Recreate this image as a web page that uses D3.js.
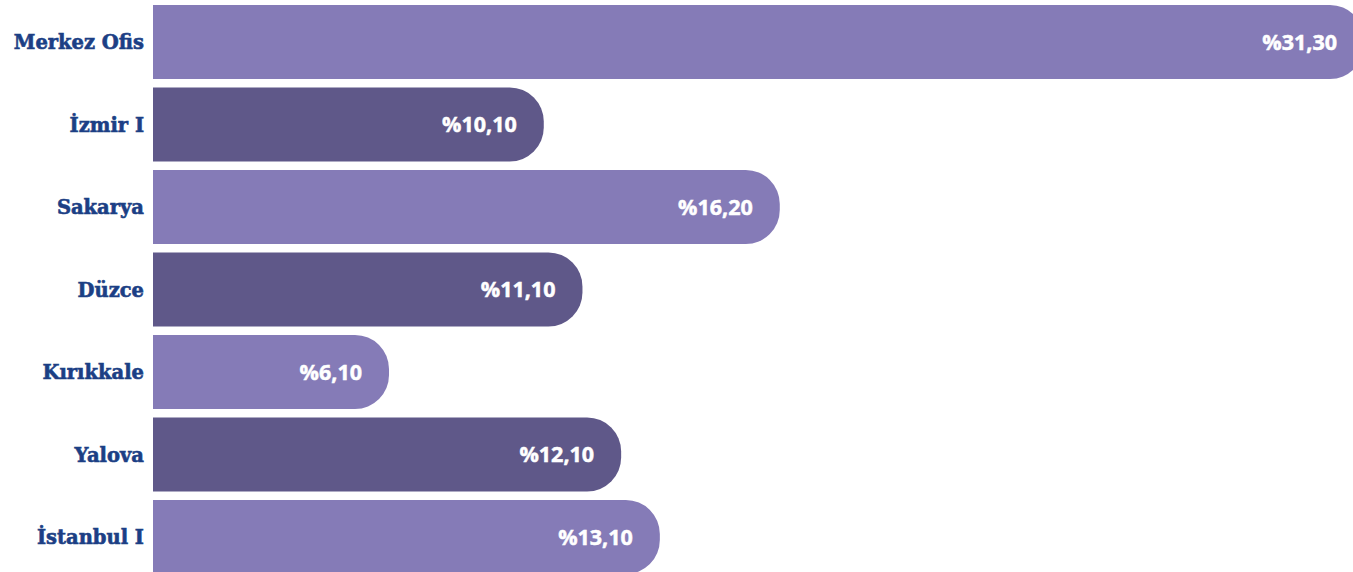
<!DOCTYPE html>
<html>
<head>
<meta charset="utf-8">
<script src="https://cdn.jsdelivr.net/npm/d3@7"></script>
<style>
  body { margin: 0; background: #fff; }
  svg { display: block; }
</style>
</head>
<body>
<div id="chart"></div>
<script>
// Branch shares (%)
const branches = ['Merkez Ofis', 'İzmir I', 'Sakarya', 'Düzce', 'Kırıkkale', 'Yalova', 'İstanbul I'];
const shares = [31.30, 10.10, 16.20, 11.10, 6.10, 12.10, 13.10];
const valueLabels = ['%31,30', '%10,10', '%16,20', '%11,10', '%6,10', '%12,10', '%13,10'];

const data = branches.map((b, i) => ({ name: b, value: shares[i], label: valueLabels[i], i }));

const W = 1353, H = 572;
const margin = { top: 5, left: 153 };

const svg = d3.select('#chart')
  .append('svg')
  .attr('width', W)
  .attr('height', H);

const g = svg.append('g')
  .attr('transform', `translate(${margin.left},${margin.top})`);

const x = d3.scaleLinear()
  .domain([0, 31.3])
  .range([0, 1211]);

// step 82.5, bar 74
const y = d3.scaleBand()
  .domain(branches)
  .range([0, 82.5 * 6 + 74])
  .paddingInner(8.5 / 82.5)
  .paddingOuter(0);

const light = '#857bb7';
const dark = '#5f5889';

// bar with square left end and rounded right end
function barPath(d) {
  const w = x(d.value);
  const h = y.bandwidth();
  const r = 34;
  const y0 = y(d.name);
  return `M0,${y0} H${w - r} A${r},${r} 0 0 1 ${w},${y0 + r} V${y0 + h - r} A${r},${r} 0 0 1 ${w - r},${y0 + h} H0 Z`;
}

g.selectAll('.bar')
  .data(data)
  .enter()
  .append('path')
  .attr('class', 'bar')
  .attr('d', barPath)
  .attr('fill', d => d.i % 2 === 0 ? light : dark);

g.selectAll('.value')
  .data(data)
  .enter()
  .append('text')
  .attr('class', 'value')
  .attr('x', d => x(d.value) - 27)
  .attr('y', d => y(d.name) + y.bandwidth() / 2)
  .attr('dy', '0.36em')
  .attr('text-anchor', 'end')
  .style('font-family', '"Open Sans", sans-serif')
  .style('font-weight', 'bold')
  .style('font-size', '21.5px')
  .style('fill', '#fff')
  .style('stroke', '#fff')
  .style('stroke-width', 0.5)
  .text(d => d.label);

g.selectAll('.name')
  .data(data)
  .enter()
  .append('text')
  .attr('class', 'name')
  .attr('x', -9)
  .attr('y', d => y(d.name) + y.bandwidth() / 2)
  .attr('dy', '0.36em')
  .attr('text-anchor', 'end')
  .style('font-family', '"DejaVu Serif", serif')
  .style('font-weight', 'bold')
  .style('font-size', '19.5px')
  .style('fill', '#1c3f85')
  .style('stroke', '#1c3f85')
  .style('stroke-width', 0.6)
  .text(d => d.name);
</script>
</body>
</html>
